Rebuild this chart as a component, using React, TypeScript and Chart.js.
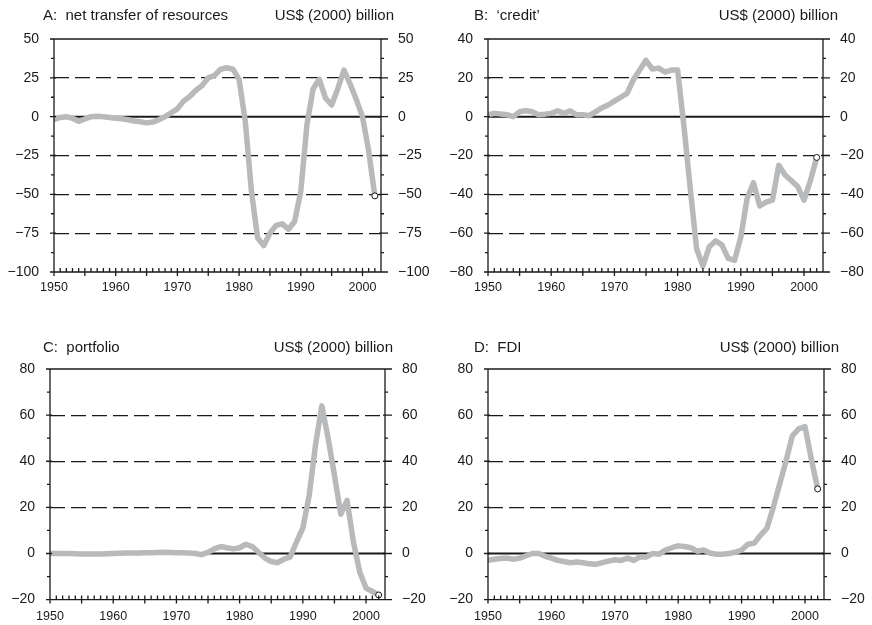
import React, { useEffect, useRef } from 'react';
import { Chart, registerables } from 'chart.js';

Chart.register(...registerables);

const FONT = '"Liberation Sans", Arial, Helvetica, sans-serif';
const INK = '#1a1a1a';
const LINE_GRAY = '#b8b9bb';

const years = [
  1950, 1951, 1952, 1953, 1954, 1955, 1956, 1957, 1958, 1959,
  1960, 1961, 1962, 1963, 1964, 1965, 1966, 1967, 1968, 1969,
  1970, 1971, 1972, 1973, 1974, 1975, 1976, 1977, 1978, 1979,
  1980, 1981, 1982, 1983, 1984, 1985, 1986, 1987, 1988, 1989,
  1990, 1991, 1992, 1993, 1994, 1995, 1996, 1997, 1998, 1999,
  2000, 2001, 2002,
];

const netTransfer = [
  -2, -0.5, 0, -1, -3, -1.5, 0, 0.3, 0, -0.5,
  -1, -1.3, -2, -2.8, -3.3, -4, -3.5, -2, 0, 2.5,
  5, 10, 13, 17, 20, 25, 26.5, 30.5, 31.5, 30.5,
  24, -3, -48, -78, -83, -75, -70, -69, -72.5, -67.5,
  -48, -5, 18, 24, 12, 7.5, 18, 30, 21, 11,
  0, -22, -51,
];

const credit = [
  1, 1.7, 1.4, 1, 0, 2.5, 3, 2.5, 1, 1.3,
  1.7, 3, 1.7, 3, 1, 1, 0.5, 2.5, 4.5, 6,
  8, 10, 12, 19, 24, 29, 24.5, 25, 23, 24,
  24, -5, -37, -68, -77, -67, -64, -66, -73, -74,
  -62, -42, -34, -46, -44, -43, -25, -30, -33, -36,
  -43, -33, -21,
];

const portfolio = [
  0, 0, 0, 0, -0.1, -0.2, -0.2, -0.2, -0.2, -0.1,
  0, 0.1, 0.2, 0.2, 0.2, 0.3, 0.3, 0.4, 0.5, 0.4,
  0.3, 0.3, 0.2, 0, -0.5, 0.5, 2, 3, 2.5, 2,
  2.5, 4, 3, 0.5, -2, -3.5, -4, -2.5, -1.5, 5,
  11, 25, 47, 64, 50, 34, 17, 23, 5, -8,
  -15, -16.5, -18,
];

const fdi = [
  -3, -2.5, -2.2, -2, -2.5, -2, -1, 0, 0, -1.2,
  -2, -3, -3.5, -4, -3.7, -4, -4.5, -4.7, -4, -3.3,
  -2.7, -3, -2, -3, -1.5, -1.5, 0, -0.3, 1.5, 2.5,
  3.3, 3, 2.5, 1, 1.5, 0.2, -0.3, -0.3, 0, 0.5,
  1.5, 4, 4.5, 8, 11, 20, 30, 40, 51, 54,
  55, 41, 28,
];

const yearTickLabels = [1950, 1960, 1970, 1980, 1990, 2000];
const ticksA = [-100, -75, -50, -25, 0, 25, 50];
const ticksB = [-80, -60, -40, -20, 0, 20, 40];
const ticksCD = [-20, 0, 20, 40, 60, 80];

const titleA = 'A:  net transfer of resources';
const titleB = 'B:  \u2018credit\u2019';
const titleC = 'C:  portfolio';
const titleD = 'D:  FDI';
const unitLabel = 'US$ (2000) billion';

type PanelDef = {
  title: string;
  values: number[];
  yTicks: number[];
  minor: number;
  left: number;
  top: number;
  width: number;
  height: number;
  padTop: number;
  yW: number;
  y2W: number;
  xH: number;
  xPad: number;
  titleLeft: number;
  titleRight: number;
  titleBase: number;
};

const panels: PanelDef[] = [
  { title: titleA, values: netTransfer, yTicks: ticksA, minor: 12.5, left: 0, top: 0, width: 436, height: 305,
    padTop: 39, yW: 54, y2W: 55, xH: 33, xPad: 8, titleLeft: 43, titleRight: 394, titleBase: 20 },
  { title: titleB, values: credit, yTicks: ticksB, minor: 10, left: 436, top: 0, width: 436, height: 305,
    padTop: 39, yW: 52, y2W: 49, xH: 33, xPad: 8, titleLeft: 38, titleRight: 402, titleBase: 20 },
  { title: titleC, values: portfolio, yTicks: ticksCD, minor: 10, left: 0, top: 310, width: 436, height: 315,
    padTop: 59, yW: 50, y2W: 51, xH: 25, xPad: 9, titleLeft: 43, titleRight: 393, titleBase: 42 },
  { title: titleD, values: fdi, yTicks: ticksCD, minor: 10, left: 436, top: 310, width: 436, height: 315,
    padTop: 59, yW: 52, y2W: 48, xH: 25, xPad: 9, titleLeft: 38, titleRight: 403, titleBase: 42 },
];

const fmt = (v: number) => (v < 0 ? '\u2212' + Math.abs(v) : String(v));

const framePlugin = {
  id: 'frame',
  beforeDatasetsDraw(chart: any) {
    const { ctx, chartArea } = chart;
    const y = chart.scales.y;
    const y0 = y.getPixelForValue(0);
    ctx.save();
    ctx.strokeStyle = INK;
    ctx.lineWidth = 2;
    ctx.beginPath();
    ctx.moveTo(chartArea.left, y0);
    ctx.lineTo(chartArea.right, y0);
    ctx.stroke();
    ctx.restore();
  },
  afterDraw(chart: any, _args: any, opts: any) {
    const { ctx, chartArea } = chart;
    const L = chartArea.left, R = chartArea.right, T = chartArea.top, B = chartArea.bottom;
    const xs = chart.scales.x;
    const ys = chart.scales.y;
    ctx.save();
    ctx.strokeStyle = INK;
    ctx.lineWidth = 1.3;
    ctx.beginPath();
    ctx.moveTo(L, T); ctx.lineTo(R, T);
    ctx.moveTo(L, B); ctx.lineTo(R, B);
    ctx.moveTo(L, T); ctx.lineTo(L, B);
    ctx.moveTo(R, T); ctx.lineTo(R, B);
    const min = ys.min, max = ys.max;
    const step = opts.minor;
    for (let k = 0; min + k * step <= max + 1e-9; k++) {
      const v = min + k * step;
      const py = ys.getPixelForValue(v);
      if (k % 2 === 0) {
        ctx.moveTo(L - 4, py); ctx.lineTo(L + 2, py);
        ctx.moveTo(R - 2, py); ctx.lineTo(R + 7, py);
      } else {
        ctx.moveTo(L - 3, py); ctx.lineTo(L, py);
        ctx.moveTo(R, py); ctx.lineTo(R + 3, py);
      }
    }
    for (let yr = Math.ceil(xs.min); yr <= xs.max; yr++) {
      const px = xs.getPixelForValue(yr);
      if (yr % 5 === 0) {
        ctx.moveTo(px, B - 4); ctx.lineTo(px, B + 4);
      } else {
        ctx.moveTo(px, B - 4); ctx.lineTo(px, B);
      }
    }
    ctx.stroke();
    ctx.fillStyle = INK;
    ctx.font = '15px ' + FONT;
    ctx.textBaseline = 'alphabetic';
    ctx.textAlign = 'left';
    ctx.fillText(opts.title, opts.titleLeft, opts.titleBase);
    ctx.textAlign = 'right';
    ctx.fillText(opts.unit, opts.titleRight, opts.titleBase);
    ctx.restore();
  },
};

function Panel({ p }: { p: PanelDef }) {
  const ref = useRef<HTMLCanvasElement | null>(null);
  useEffect(() => {
    const canvas = ref.current;
    if (!canvas) return;
    const yMin = p.yTicks[0];
    const yMax = p.yTicks[p.yTicks.length - 1];
    const n = p.values.length;
    const chart = new Chart(canvas, {
      type: 'line',
      data: {
        datasets: [
          {
            data: years.map((yr, i) => ({ x: yr, y: p.values[i] })),
            borderColor: LINE_GRAY,
            borderWidth: 5.5,
            tension: 0,
            borderJoinStyle: 'round',
            borderCapStyle: 'round',
            pointRadius: (ctx: any) => (ctx.dataIndex === n - 1 ? 3 : 0),
            pointBackgroundColor: '#ffffff',
            pointBorderColor: INK,
            pointBorderWidth: 1,
            fill: false,
          } as any,
        ],
      },
      options: {
        responsive: false,
        animation: false,
        devicePixelRatio: 1,
        events: [],
        layout: { padding: { top: p.padTop, left: 0, right: 0, bottom: 0 } },
        plugins: {
          legend: { display: false },
          tooltip: { enabled: false },
          frame: {
            title: p.title,
            unit: unitLabel,
            minor: p.minor,
            titleLeft: p.titleLeft,
            titleRight: p.titleRight,
            titleBase: p.titleBase,
          },
        } as any,
        scales: {
          x: {
            type: 'linear',
            min: 1950,
            max: 2003,
            afterBuildTicks: (s: any) => { s.ticks = yearTickLabels.map((v) => ({ value: v })); },
            afterFit: (s: any) => { s.height = p.xH; },
            grid: { display: false, drawTicks: false },
            border: { display: false },
            ticks: {
              padding: p.xPad,
              autoSkip: false,
              maxRotation: 0,
              color: INK,
              font: { size: 12.5, family: FONT },
              callback: (v: any) => String(v),
            },
          },
          y: {
            type: 'linear',
            position: 'left',
            min: yMin,
            max: yMax,
            afterBuildTicks: (s: any) => { s.ticks = p.yTicks.map((v) => ({ value: v })); },
            afterFit: (s: any) => { s.width = p.yW; },
            grid: {
              drawTicks: false,
              lineWidth: 1.2,
              color: (ctx: any) => {
                const v = ctx.tick ? ctx.tick.value : null;
                return v === 0 || v === yMin || v === yMax ? 'rgba(0,0,0,0)' : INK;
              },
            },
            border: { display: false, dash: [15, 6] },
            ticks: {
              padding: 15,
              color: INK,
              font: { size: 14, family: FONT },
              callback: (v: any) => fmt(Number(v)),
            },
          },
          y2: {
            type: 'linear',
            position: 'right',
            min: yMin,
            max: yMax,
            afterBuildTicks: (s: any) => { s.ticks = p.yTicks.map((v) => ({ value: v })); },
            afterFit: (s: any) => { s.width = p.y2W; },
            grid: { display: false, drawTicks: false },
            border: { display: false },
            ticks: {
              padding: 17,
              color: INK,
              font: { size: 14, family: FONT },
              callback: (v: any) => fmt(Number(v)),
            },
          },
        },
      } as any,
      plugins: [framePlugin as any],
    });
    return () => chart.destroy();
  }, [p]);
  return (
    <canvas
      ref={ref}
      width={p.width}
      height={p.height}
      style={{ position: 'absolute', left: p.left, top: p.top, width: p.width, height: p.height }}
    />
  );
}

export default function App() {
  return (
    <div style={{ position: 'absolute', left: 0, top: 0, width: 872, height: 625, background: '#ffffff' }}>
      {panels.map((p, i) => (
        <Panel key={i} p={p} />
      ))}
    </div>
  );
}
